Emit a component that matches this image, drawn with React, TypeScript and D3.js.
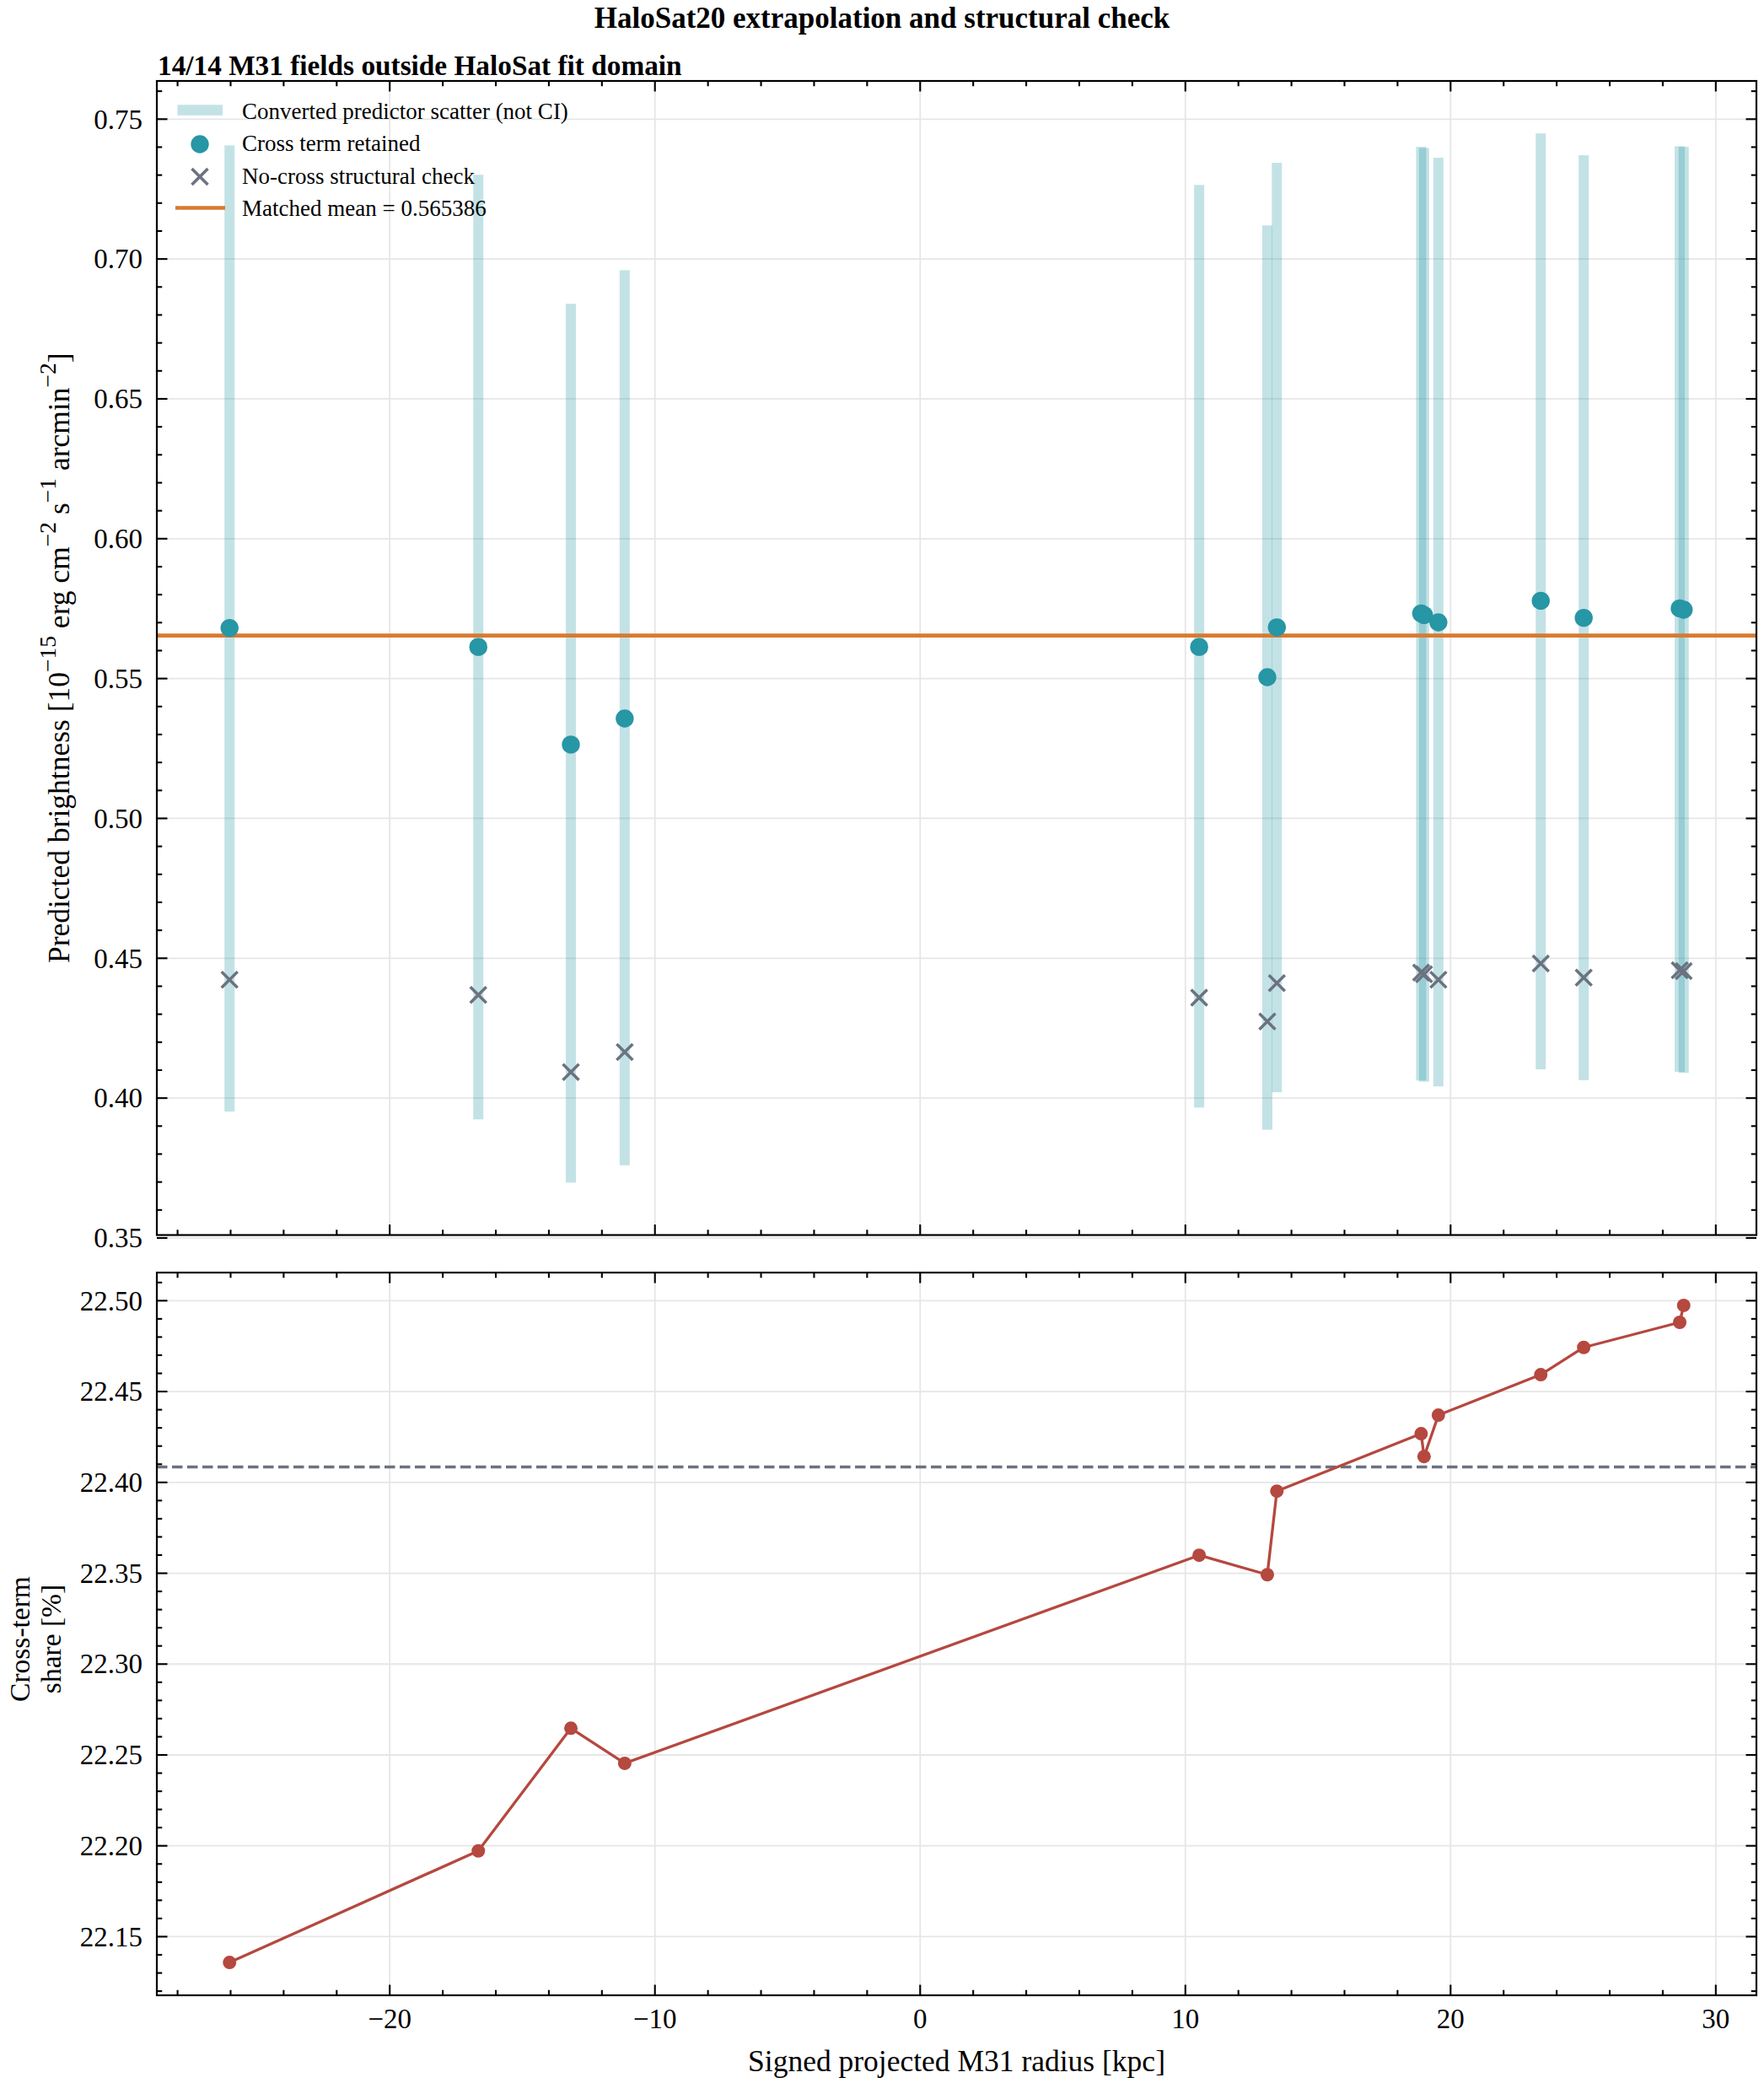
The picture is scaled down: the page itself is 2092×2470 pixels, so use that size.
import * as d3 from 'd3';

// field radii (kpc) and predictions
const radius = [-26.04, -16.66, -13.17, -11.14, 10.52, 13.09, 13.45, 18.89, 19.0, 19.54, 23.4, 25.02, 28.64, 28.79];
const crossRetained = [0.5681, 0.5613, 0.5264, 0.5357, 0.5613, 0.5505, 0.5683, 0.5733, 0.5727, 0.5701, 0.5778, 0.5717, 0.5751, 0.5746];
const noCross = [0.4423, 0.4369, 0.4093, 0.4165, 0.4359, 0.4274, 0.4411, 0.4449, 0.4443, 0.4423, 0.4481, 0.4431, 0.4457, 0.4454];
const scatterLo = [0.3952, 0.3924, 0.3698, 0.376, 0.3966, 0.3887, 0.4021, 0.4063, 0.4059, 0.4042, 0.4103, 0.4064, 0.4094, 0.409];
const scatterHi = [0.7406, 0.7301, 0.684, 0.696, 0.7265, 0.712, 0.7344, 0.7401, 0.7397, 0.7362, 0.7449, 0.7371, 0.7403, 0.7401];
const crossShare = [22.1358, 22.1972, 22.2647, 22.2454, 22.3599, 22.3492, 22.3952, 22.4268, 22.4142, 22.437, 22.4593, 22.4743, 22.4881, 22.4974];
const matchedMean = 0.565386;
const shareRef = 22.4085;

const xMajor = [-20, -10, 0, 10, 20, 30];
const topYMajor = [0.35, 0.4, 0.45, 0.5, 0.55, 0.6, 0.65, 0.7, 0.75];
const botYMajor = [22.15, 22.2, 22.25, 22.3, 22.35, 22.4, 22.45, 22.5];

const W = 2092;
const H = 2470;
const left = 186;
const right = 2083;
const top1 = 96;
const bot1 = 1464.5;
const top2 = 1509;
const bot2 = 2366;

const FONT = "'Liberation Serif', 'DejaVu Serif', serif";
const TEAL = '#2796a5';
const GRAY = '#6b7280';
const ORANGE = '#d97a2f';
const RED = '#b5483f';
const GRID = '#e6e6e6';

// matplotlib style 5% margins
const pad = (ext: [number, number]): [number, number] => {
    const r = ext[1] - ext[0];
    return [ext[0] - 0.05 * r, ext[1] + 0.05 * r];
};

const x = d3.scaleLinear()
    .domain(pad(d3.extent(radius) as [number, number]))
    .range([left, right]);

const yTop = d3.scaleLinear()
    .domain(pad([d3.min(scatterLo)!, d3.max(scatterHi)!]))
    .range([bot1, top1]);

const yBot = d3.scaleLinear()
    .domain(pad(d3.extent(crossShare) as [number, number]))
    .range([bot2, top2]);

const minorTicks = (domain: number[], step: number, majors: number[]) => {
    const out: number[] = [];
    const start = Math.ceil(domain[0] / step - 1e-9);
    const end = Math.floor(domain[1] / step + 1e-9);
    for (let i = start; i <= end; i++) {
        const v = +(i * step).toFixed(6);
        if (!majors.some(m => Math.abs(m - v) < 1e-9)) out.push(v);
    }
    return out;
};

const xMinor = minorTicks(x.domain(), 2, xMajor);
const topYMinor = minorTicks(yTop.domain(), 0.01, topYMajor);
const botYMinor = minorTicks(yBot.domain(), 0.01, botYMajor);

const fmtX = (v: number) => (v < 0 ? '\u2212' + Math.abs(v) : String(v));

const Frame = ({ y, y0, y1, yMajor, yMinor, fmtY, showX }: any) => {
    const majLen = 12.5;
    const minLen = 6.25;
    const tw = 2.1;
    return (
        <g>
            {/* ticks on all four sides, pointing inwards */}
            {xMajor.map(v => (
                <g key={'xM' + v}>
                    <line x1={x(v)} x2={x(v)} y1={y1} y2={y1 - majLen} stroke="#000" strokeWidth={tw} />
                    <line x1={x(v)} x2={x(v)} y1={y0} y2={y0 + majLen} stroke="#000" strokeWidth={tw} />
                </g>
            ))}
            {xMinor.map(v => (
                <g key={'xm' + v}>
                    <line x1={x(v)} x2={x(v)} y1={y1} y2={y1 - minLen} stroke="#000" strokeWidth={tw} />
                    <line x1={x(v)} x2={x(v)} y1={y0} y2={y0 + minLen} stroke="#000" strokeWidth={tw} />
                </g>
            ))}
            {yMajor.map((v: number) => (
                <g key={'yM' + v}>
                    <line x1={left} x2={left + majLen} y1={y(v)} y2={y(v)} stroke="#000" strokeWidth={tw} />
                    <line x1={right} x2={right - majLen} y1={y(v)} y2={y(v)} stroke="#000" strokeWidth={tw} />
                    <text x={left - 17} y={y(v)} dy="0.34em" textAnchor="end" fontSize={33} fontFamily={FONT}>{fmtY(v)}</text>
                </g>
            ))}
            {yMinor.map((v: number) => (
                <g key={'ym' + v}>
                    <line x1={left} x2={left + minLen} y1={y(v)} y2={y(v)} stroke="#000" strokeWidth={tw} />
                    <line x1={right} x2={right - minLen} y1={y(v)} y2={y(v)} stroke="#000" strokeWidth={tw} />
                </g>
            ))}
            {showX && xMajor.map(v => (
                <text key={'xl' + v} x={x(v)} y={y1 + 39} textAnchor="middle" fontSize={33} fontFamily={FONT}>{fmtX(v)}</text>
            ))}
            <rect x={left} y={y0} width={right - left} height={y1 - y0} fill="none" stroke="#000" strokeWidth={2.2} />
        </g>
    );
};

const Grid = ({ y, y0, y1, yMajor }: any) => (
    <g>
        {xMajor.map(v => (
            <line key={'gx' + v} x1={x(v)} x2={x(v)} y1={y0} y2={y1} stroke={GRID} strokeWidth={1.8} />
        ))}
        {yMajor.map((v: number) => (
            <line key={'gy' + v} x1={left} x2={right} y1={y(v)} y2={y(v)} stroke={GRID} strokeWidth={1.8} />
        ))}
    </g>
);

const Cross = ({ cx, cy, r, color, w }: any) => (
    <g stroke={color} strokeWidth={w}>
        <line x1={cx - r} y1={cy - r} x2={cx + r} y2={cy + r} />
        <line x1={cx - r} y1={cy + r} x2={cx + r} y2={cy - r} />
    </g>
);

// superscript followed by a return to the baseline
const sup = (s: string, key: string) => [
    <tspan key={key + 'a'} dy={-16} fontSize={27.5}>{s}</tspan>,
    <tspan key={key + 'b'} dy={16}>{' '}</tspan>,
];

export default function App() {
    const barW = 12;
    const shareLine = d3.line<number>()
        .x((_, i) => x(radius[i]))
        .y(d => yBot(d));

    const legendX = 287;
    const legendBase = [140.5, 179, 217.5, 256];

    return (
        <div style={{ position: 'absolute', left: 0, top: 0 }}>
            <svg width={W} height={H} viewBox={`0 0 ${W} ${H}`} style={{ display: 'block', background: '#fff' }}>
                <rect x={0} y={0} width={W} height={H} fill="#fff" />

                <text x={W / 2} y={33} textAnchor="middle" fontSize={35} fontWeight="bold" fontFamily={FONT}>
                    HaloSat20 extrapolation and structural check
                </text>
                <text x={187} y={89} fontSize={33.3} fontWeight="bold" fontFamily={FONT}>
                    14/14 M31 fields outside HaloSat fit domain
                </text>

                {/* top panel */}
                <Grid y={yTop} y0={top1} y1={bot1} yMajor={topYMajor} />
                <g>
                    {radius.map((r, i) => (
                        <rect key={'bar' + i}
                            x={x(r) - barW / 2}
                            width={barW}
                            y={yTop(scatterHi[i])}
                            height={yTop(scatterLo[i]) - yTop(scatterHi[i])}
                            fill={TEAL}
                            fillOpacity={0.28} />
                    ))}
                </g>
                <line x1={left} x2={right} y1={yTop(matchedMean)} y2={yTop(matchedMean)} stroke={ORANGE} strokeWidth={4.6} />
                {radius.map((r, i) => (
                    <circle key={'c' + i} cx={x(r)} cy={yTop(crossRetained[i])} r={10.7} fill={TEAL} />
                ))}
                {radius.map((r, i) => (
                    <Cross key={'x' + i} cx={x(r)} cy={yTop(noCross[i])} r={9.5} color={GRAY} w={3.5} />
                ))}
                <Frame y={yTop} y0={top1} y1={bot1} yMajor={topYMajor} yMinor={topYMinor}
                    fmtY={(v: number) => v.toFixed(2)} showX={false} />

                {/* legend */}
                <g fontFamily={FONT} fontSize={27}>
                    <rect x={210.5} y={124.3} width={53.5} height={12.5} fill={TEAL} fillOpacity={0.28} />
                    <text x={legendX} y={legendBase[0]}>Converted predictor scatter (not CI)</text>
                    <circle cx={237} cy={171} r={10.7} fill={TEAL} />
                    <text x={legendX} y={legendBase[1]}>Cross term retained</text>
                    <Cross cx={237} cy={209.5} r={9.5} color={GRAY} w={3.5} />
                    <text x={legendX} y={legendBase[2]}>No-cross structural check</text>
                    <line x1={208} x2={267} y1={246.5} y2={246.5} stroke={ORANGE} strokeWidth={4.6} />
                    <text x={legendX} y={legendBase[3]}>Matched mean = {matchedMean.toFixed(6)}</text>
                </g>

                <text transform={`translate(82, ${(top1 + bot1) / 2}) rotate(-90)`} textAnchor="middle"
                    fontSize={35.5} fontFamily={FONT}>
                    {'Predicted brightness [10'}
                    {sup('\u221215', 's1')}
                    {'erg cm'}
                    {sup('\u22122', 's2')}
                    {'s'}
                    {sup('\u22121', 's3')}
                    {'arcmin'}
                    <tspan dy={-16} fontSize={27.5}>{'\u22122'}</tspan>
                    <tspan dy={16}>{']'}</tspan>
                </text>

                {/* bottom panel */}
                <Grid y={yBot} y0={top2} y1={bot2} yMajor={botYMajor} />
                <line x1={left} x2={right} y1={yBot(shareRef)} y2={yBot(shareRef)}
                    stroke={GRAY} strokeWidth={3.3} strokeDasharray="12.5,5.5" />
                <path d={shareLine(crossShare) || ''} fill="none" stroke={RED} strokeWidth={3.3} strokeLinejoin="round" />
                {radius.map((r, i) => (
                    <circle key={'s' + i} cx={x(r)} cy={yBot(crossShare[i])} r={8} fill={RED} />
                ))}
                <Frame y={yBot} y0={top2} y1={bot2} yMajor={botYMajor} yMinor={botYMinor}
                    fmtY={(v: number) => v.toFixed(2)} showX={true} />

                <text transform={`translate(0, ${(top2 + bot2) / 2 + 6}) rotate(-90)`} textAnchor="middle"
                    fontSize={33.5} fontFamily={FONT}>
                    <tspan x={0} y={35}>Cross-term</tspan>
                    <tspan x={0} y={72}>share [%]</tspan>
                </text>

                <text x={(left + right) / 2} y={2456} textAnchor="middle" fontSize={35.5} fontFamily={FONT}>
                    Signed projected M31 radius [kpc]
                </text>
            </svg>
        </div>
    );
}
